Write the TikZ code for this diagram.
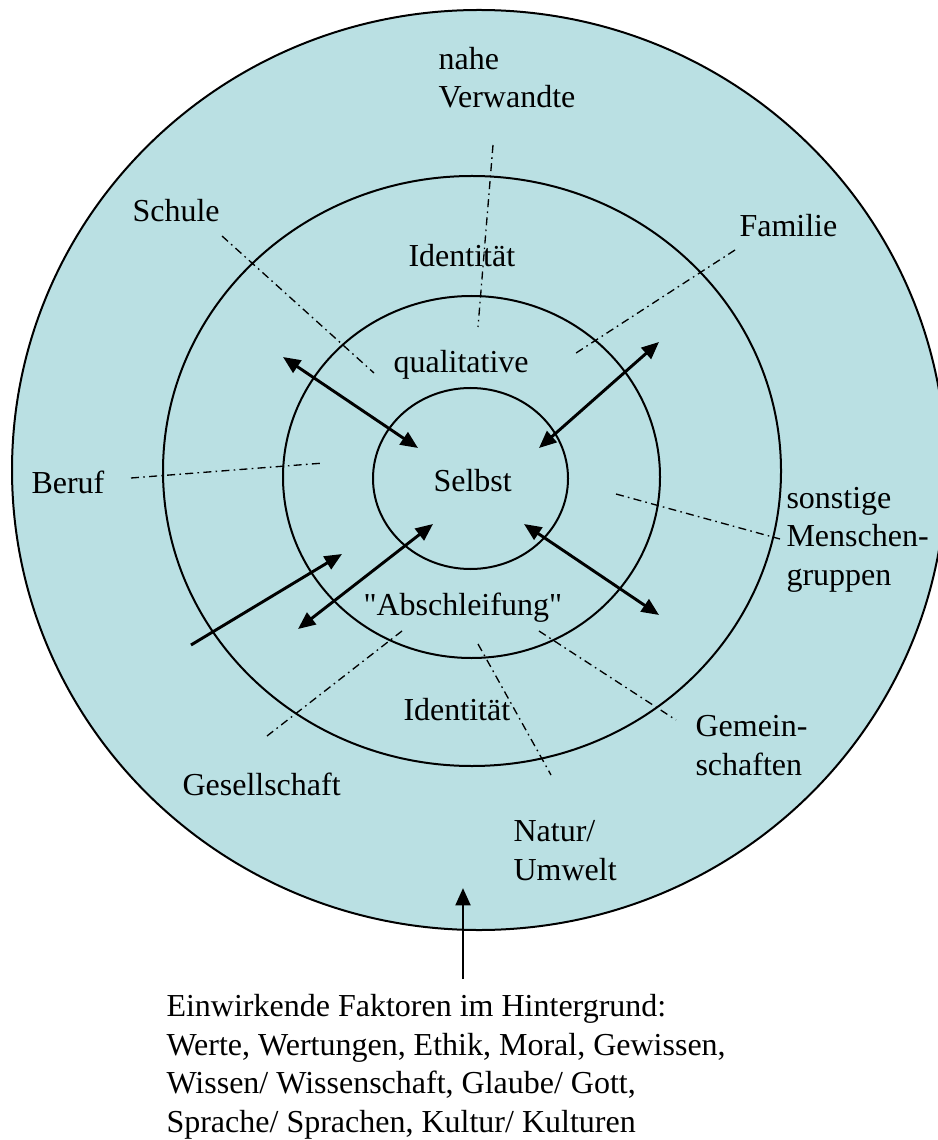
\documentclass[tikz,border=0pt]{standalone}
\usepackage{fontspec}
\setmainfont{Liberation Serif}
\newfontfamily\geradefont{Liberation Serif}
\usetikzlibrary{arrows.meta}
\definecolor{ringFill}{RGB}{186,224,227}

\tikzset{
  ring/.style={draw=black, line width=0.75pt},
  lbl/.style={anchor=base west, inner sep=0pt, align=left, font=\fontsize{12}{14.4}\selectfont},
  strich/.style={line width=0.5pt, dash pattern=on 3pt off 1.6pt on 0.6pt off 1.6pt},
  pfeil/.style={line width=1.1pt, -{Triangle[length=6.5pt,width=5.5pt]}},
  doppel/.style={line width=1.1pt, {Triangle[length=6.5pt,width=5.5pt]}-{Triangle[length=6.5pt,width=5.5pt]}},
}

\begin{document}
\begin{tikzpicture}[x=0.375pt, y=-0.375pt]
\useasboundingbox (0,0) rectangle (937,1140);

% Kreise
\fill[ringFill] (479,470) ellipse [x radius=467, y radius=460];
\draw[ring] (479,470) ellipse [x radius=467, y radius=460];
\draw[ring] (472,471) ellipse [x radius=309, y radius=295];
\draw[ring] (471.5,477) ellipse [x radius=188.5, y radius=181];
\draw[ring] (470.5,478.5) ellipse [x radius=97.5, y radius=90.5];

% Beschriftungen (bei mehreren Zeilen: Grundlinie der letzten Zeile)
\node[lbl] (nahe) at (438,108) {nahe\\Verwandte};
\node[lbl] (schule) at (132,222) {Schule};
\node[lbl] (identoben) at (408,267) {Identität};
\node[lbl] (familie) at (739,237) {Familie};
\node[lbl] (qual) at (393,373) {qualitative};
\node[lbl] (beruf) at (31,493) {Beruf};
\node[lbl] (selbst) at (433,491) {Selbst};
\node[lbl] (sonst) at (786,585) {sonstige\\Menschen-\\gruppen};
\node[lbl] (abschl) at (363,615) {\geradefont "Abschleifung"};
\node[lbl] (identunten) at (403,720) {Identität};
\node[lbl] (gemein) at (695,775) {Gemein-\\schaften};
\node[lbl] (gesell) at (182,795) {Gesellschaft};
\node[lbl] (natur) at (513,880) {Natur/\\Umwelt};
\node[lbl] (faktoren) at (166,1132) {Einwirkende Faktoren im Hintergrund:\\Werte, Wertungen, Ethik, Moral, Gewissen,\\Wissen/ Wissenschaft, Glaube/ Gott,\\Sprache/ Sprachen, Kultur/ Kulturen};

% Strichpunktlinien
\coordinate (nA) at (493,145);   \coordinate (nB) at (478,327);
\coordinate (sA) at (222,236);   \coordinate (sB) at (374,373);
\coordinate (fA) at (735,250);   \coordinate (fB) at (573,355);
\coordinate (bA) at (131,478);   \coordinate (bB) at (324,463);
\coordinate (mA) at (616,494);   \coordinate (mB) at (780,539);
\coordinate (gA) at (539,631);   \coordinate (gB) at (676,720);
\coordinate (uA) at (478,644);   \coordinate (uB) at (551,775);
\coordinate (eA) at (402,631);   \coordinate (eB) at (267,736);
\draw[strich] (nA) -- (nB);
\draw[strich] (sA) -- (sB);
\draw[strich] (fA) -- (fB);
\draw[strich] (bA) -- (bB);
\draw[strich] (mA) -- (mB);
\draw[strich] (gA) -- (gB);
\draw[strich] (uA) -- (uB);
\draw[strich] (eA) -- (eB);

% Pfeile
\coordinate (p1a) at (283,357);  \coordinate (p1b) at (418,448);
\coordinate (p2a) at (659,342);  \coordinate (p2b) at (539,448);
\coordinate (p3a) at (191,645);  \coordinate (p3b) at (342,554);
\coordinate (p4a) at (298,629);  \coordinate (p4b) at (433,524);
\coordinate (p5a) at (524,524);  \coordinate (p5b) at (659,615);
\coordinate (p6a) at (463,979);  \coordinate (p6b) at (463,888);
\draw[doppel] (p1a) -- (p1b);
\draw[doppel] (p2a) -- (p2b);
\draw[pfeil] (p3a) -- (p3b);
\draw[doppel] (p4a) -- (p4b);
\draw[doppel] (p5a) -- (p5b);
\draw[pfeil] (p6a) -- (p6b);
\end{tikzpicture}
\end{document}
